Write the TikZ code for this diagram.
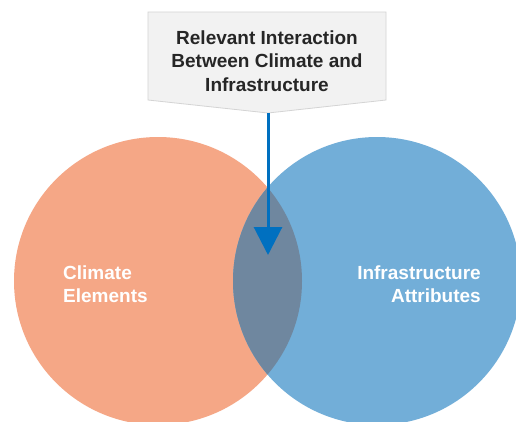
\documentclass[tikz,border=0pt]{standalone}
\usepackage{fontspec}
\setmainfont{Liberation Sans}
\usetikzlibrary{arrows.meta,positioning}
\definecolor{vnsalmon}{RGB}{245,167,134}
\definecolor{vnsky}{RGB}{114,174,216}
\definecolor{vnslate}{RGB}{111,135,159}
\definecolor{vnarrow}{RGB}{0,112,192}
\definecolor{vnpanel}{RGB}{242,242,242}
\definecolor{vnrule}{RGB}{212,212,212}
\definecolor{vnink}{RGB}{38,38,38}

\begin{document}
\begin{tikzpicture}[x=1pt,y=-1pt,
  font=\fontsize{19}{23.5}\selectfont\bfseries,
  lbl/.style={text=white,inner sep=0pt},
  callout/.style={fill=vnpanel,draw=vnrule,line width=0.8pt},
  pointer/.style={-{Triangle[length=28pt,width=28pt]},line width=3pt,vnarrow}
]
  \useasboundingbox[fill=white] (0,0) rectangle (516,421);

  % the two sets and their overlap
  \coordinate (climc) at (158,281);
  \coordinate (infrac) at (377,281);
  \fill[vnsalmon] (climc) circle[radius=144pt];
  \fill[vnsky] (infrac) circle[radius=144pt];
  \begin{scope}
    \clip (climc) circle[radius=144pt];
    \fill[vnslate] (infrac) circle[radius=144pt];
  \end{scope}

  \node[lbl,align=left,anchor=west] (climlbl) at (63,284) {Climate\\Elements};
  \node[lbl,align=right,anchor=east] (infralbl) at (481,284) {Infrastructure\\Attributes};

  % callout box pointing into the overlap
  \draw[callout] (148,12) -- (386,12) -- (386,100) -- (268,113) -- (148,100) -- cycle;
  \node[text=vnink,align=center,inner sep=0pt] (title) at (267,61)
    {Relevant Interaction\\Between Climate and\\Infrastructure};
  \coordinate (spout) at (268,113);
  \coordinate (hit) at (268,255);
  \draw[pointer] (spout) -- (hit);
\end{tikzpicture}
\end{document}
